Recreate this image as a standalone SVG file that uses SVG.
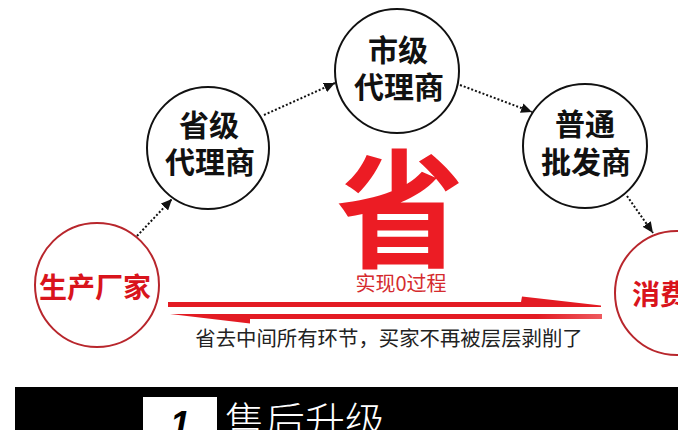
<svg xmlns="http://www.w3.org/2000/svg" width="678" height="430" viewBox="0 0 678 430">
<defs>
<style>
.cj{font-family:"Noto Sans CJK SC","Noto Sans",sans-serif;}
.bc{fill:#fff;stroke:#111;stroke-width:2;}
.rc{fill:#fff;stroke:#b8262c;stroke-width:2;}
.bt{font-size:30px;font-weight:700;fill:#111;text-anchor:middle;}
.rt{font-size:28px;font-weight:700;fill:#d9141c;}
.dot{stroke:#111;stroke-width:2;stroke-dasharray:2 2;fill:none;marker-end:url(#ah);}
.red{fill:#e31b23;}
</style>
<marker id="ah" markerUnits="userSpaceOnUse" markerWidth="12" markerHeight="10" refX="11" refY="5" orient="auto">
<path d="M0,0 L11,5 L0,10 Z" fill="#111"/>
</marker>
<linearGradient id="fade" x1="0" x2="1" y1="0" y2="0">
<stop offset="0" stop-color="#e31b23"/>
<stop offset="0.85" stop-color="#e31b23"/>
<stop offset="1" stop-color="#ee5a5f"/>
</linearGradient>
</defs>
<rect width="678" height="430" fill="#fff"/>
<g id="connectors">
<line class="dot" x1="137" y1="236" x2="172" y2="199"/>
<line class="dot" x1="264" y1="115" x2="335" y2="83"/>
<line class="dot" x1="460" y1="85" x2="532" y2="112"/>
<line class="dot" x1="627" y1="196" x2="653" y2="233"/>
</g>
<g id="n-producer">
<circle class="rc" cx="97" cy="285" r="62"/>
<text class="cj rt" x="95" y="298" text-anchor="middle">生产厂家</text>
</g>
<g id="n-province">
<circle class="bc" cx="208" cy="148" r="61"/>
<text class="cj bt" x="209" y="136">省级</text>
<text class="cj bt" x="210" y="173">代理商</text>
</g>
<g id="n-city">
<circle class="bc" cx="397" cy="71" r="62"/>
<text class="cj bt" x="398" y="61">市级</text>
<text class="cj bt" x="399" y="98">代理商</text>
</g>
<g id="n-wholesale">
<circle class="bc" cx="585" cy="146" r="62"/>
<text class="cj bt" x="585" y="135">普通</text>
<text class="cj bt" x="586" y="173">批发商</text>
</g>
<g id="n-consumer">
<circle class="rc" cx="677" cy="293" r="62"/>
<text class="cj rt" x="632" y="305">消费</text>
</g>
<g id="center">
<text class="cj" x="400" y="258" font-size="128" font-weight="700" fill="#ec1c24" text-anchor="middle">省</text>
<text class="cj" x="401" y="291" font-size="20" fill="#d52b2e" text-anchor="middle">实现0过程</text>
<path class="red" d="M168,302 L521,302 L522,296.5 L601,305.5 L601,307 L168,307 Z"/>
<path fill="url(#fade)" d="M170,314 L602,314 L602,319 L250,319 L250,323.5 Z"/>
<text class="cj" x="389" y="346" font-size="20.4" fill="#222" text-anchor="middle">省去中间所有环节，买家不再被层层剥削了</text>
</g>
<g id="footer">
<rect x="15" y="387" width="663" height="43" fill="#000"/>
<rect x="143" y="397" width="74" height="33" fill="#fff"/>
<text x="180" y="437" font-family="Liberation Sans, Arial, sans-serif" font-size="36" font-weight="700" font-style="italic" fill="#000" text-anchor="middle">1</text>
<text class="cj" x="225" y="436" font-size="40" font-weight="300" fill="#fff">售后升级</text>
</g>
</svg>
